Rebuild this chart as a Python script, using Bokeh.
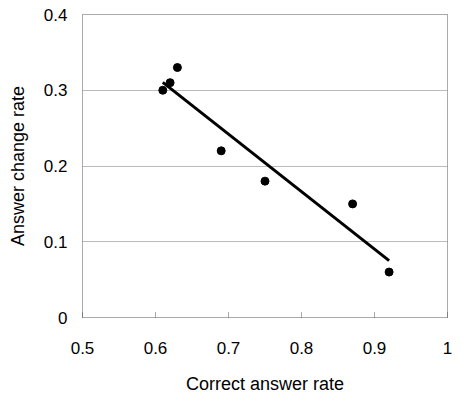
import numpy as np
from bokeh.plotting import figure
from bokeh.models import Range1d, FixedTicker
from bokeh.embed import file_html
from bokeh.resources import INLINE

correct_rate = [0.61, 0.62, 0.63, 0.69, 0.75, 0.87, 0.92]
change_rate = [0.30, 0.31, 0.33, 0.22, 0.18, 0.15, 0.06]
x_ticks = [0.5, 0.6, 0.7, 0.8, 0.9, 1.0]
y_ticks = [0, 0.1, 0.2, 0.3, 0.4]
x_labels = {0.5: "0.5", 0.6: "0.6", 0.7: "0.7", 0.8: "0.8", 0.9: "0.9", 1.0: "1"}
y_labels = {0: "0", 0.1: "0.1", 0.2: "0.2", 0.3: "0.3", 0.4: "0.4"}

slope, intercept = np.polyfit(correct_rate, change_rate, 1)
fit_x = [min(correct_rate), max(correct_rate)]
fit_y = [slope * v + intercept for v in fit_x]

FONT = "Liberation Sans"

p = figure(width=453, height=396, output_backend="svg", toolbar_location=None,
           x_range=Range1d(0.5, 1.0), y_range=Range1d(0, 0.4),
           min_border_left=82, min_border_right=6, min_border_top=14, min_border_bottom=78)
p.background_fill_color = "white"
p.border_fill_color = "white"
p.outline_line_color = "#555555"
p.outline_line_dash = "1 1"
p.outline_line_width = 1

p.xgrid.grid_line_color = None
p.ygrid.grid_line_color = "#777777"
p.ygrid.grid_line_dash = "1 1"
p.ygrid.grid_line_width = 1

p.xaxis.ticker = FixedTicker(ticks=x_ticks)
p.yaxis.ticker = FixedTicker(ticks=y_ticks)
p.xaxis.major_label_overrides = x_labels
p.yaxis.major_label_overrides = y_labels

for ax in (p.xaxis, p.yaxis):
    ax.axis_line_color = None
    ax.minor_tick_line_color = None
    ax.major_label_text_font = FONT
    ax.major_label_text_font_size = "17px"
    ax.major_label_text_color = "black"
    ax.axis_label_text_font = FONT
    ax.axis_label_text_font_size = "18px"
    ax.axis_label_text_font_style = "normal"
    ax.axis_label_text_color = "black"

p.xaxis.major_tick_in = 5
p.xaxis.major_tick_out = 0
p.xaxis.major_tick_line_color = "#555555"
p.xaxis.major_tick_line_dash = "1 1"
p.yaxis.major_tick_line_color = None
p.yaxis.major_tick_in = 0
p.yaxis.major_tick_out = 0

p.xaxis.major_label_standoff = 24
p.yaxis.major_label_standoff = 15
p.xaxis.axis_label = "Correct answer rate"
p.yaxis.axis_label = "Answer change rate"
p.xaxis.axis_label_standoff = 17
p.yaxis.axis_label_standoff = 13

p.line(fit_x, fit_y, line_color="black", line_width=3)
p.scatter(correct_rate, change_rate, size=8, fill_color="black", line_color="black")

open("out.html", "w").write(file_html(p, INLINE))
